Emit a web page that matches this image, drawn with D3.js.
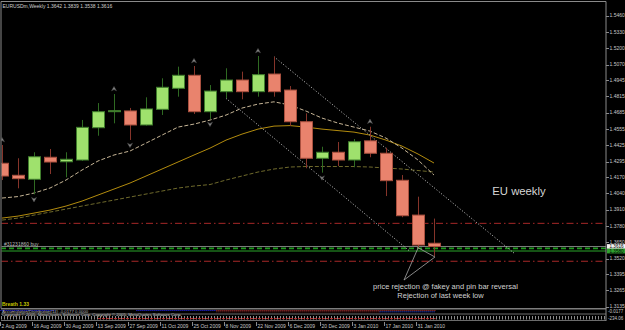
<!DOCTYPE html>
<html>
<head>
<meta charset="utf-8">
<script src="https://cdnjs.cloudflare.com/ajax/libs/d3/7.8.5/d3.min.js"></script>
<style>
body{margin:0;background:#000;}
svg{display:block;font-family:"Liberation Sans",Arial,sans-serif;}
</style>
</head>
<body>
<div class="chart-container"></div>
<script>
// weekly bars EURUSDm
const weeks = ['2 Aug 2009','9 Aug 2009','16 Aug 2009','23 Aug 2009','30 Aug 2009','6 Sep 2009','13 Sep 2009',
  '20 Sep 2009','27 Sep 2009','4 Oct 2009','11 Oct 2009','18 Oct 2009','25 Oct 2009','1 Nov 2009','8 Nov 2009',
  '15 Nov 2009','22 Nov 2009','29 Nov 2009','6 Dec 2009','13 Dec 2009','20 Dec 2009','27 Dec 2009','3 Jan 2010',
  '10 Jan 2010','17 Jan 2010','24 Jan 2010','31 Jan 2010','7 Feb 2010'];

const open  = [1.4281,1.4185,1.4153,1.4329,1.4293,1.4307,1.4565,1.4693,1.4699,1.4587,1.4712,1.4880,1.4984,1.4693,
  1.4853,1.4946,1.4853,1.4994,1.4866,1.4613,1.4321,1.4369,1.4307,1.4460,1.4361,1.4145,1.3867,1.3642];
const high  = [1.4427,1.4321,1.4369,1.4395,1.4369,1.4627,1.4762,1.4834,1.4723,1.4808,1.4960,1.5053,1.5058,1.4906,
  1.5040,1.5013,1.5138,1.5132,1.4898,1.4680,1.4413,1.4451,1.4475,1.4573,1.4405,1.4187,1.4014,1.3839];
const low   = [1.4147,1.4081,1.4033,1.4195,1.4169,1.4300,1.4501,1.4600,1.4467,1.4582,1.4667,1.4813,1.4675,1.4635,
  1.4800,1.4792,1.4813,1.4813,1.4579,1.4241,1.4206,1.4259,1.4249,1.4329,1.4019,1.3850,1.3600,1.3538];
const close = [1.4179,1.4158,1.4333,1.4291,1.4313,1.4568,1.4693,1.4701,1.4587,1.4715,1.4888,1.4984,1.4693,1.4858,
  1.4946,1.4853,1.4989,1.4853,1.4613,1.4321,1.4369,1.4307,1.4453,1.4361,1.4142,1.3862,1.3628,1.3616];

// moving averages
const maFast = [1.4003,1.4015,1.4043,1.4083,1.4147,1.4227,1.4299,1.4347,1.4379,1.4442,1.4506,1.4570,1.4594,1.4626,
  1.4666,1.4722,1.4754,1.4772,1.4746,1.4698,1.4642,1.4602,1.4570,1.4538,1.4482,1.4402,1.4307,1.4187];
const maMid  = [1.3843,1.3859,1.3883,1.3907,1.3939,1.3979,1.4027,1.4075,1.4123,1.4179,1.4235,1.4291,1.4347,1.4402,
  1.4466,1.4514,1.4554,1.4578,1.4582,1.4570,1.4554,1.4542,1.4530,1.4506,1.4466,1.4418,1.4355,1.4283];
const maSlow = [1.3827,1.3843,1.3867,1.3891,1.3915,1.3939,1.3963,1.3987,1.4011,1.4035,1.4059,1.4083,1.4099,1.4111,
  1.4147,1.4179,1.4211,1.4235,1.4251,1.4255,1.4255,1.4255,1.4255,1.4251,1.4243,1.4235,1.4223,1.4211];

const fractalUp = [0,7,12,16,23];
const fractalDown = [2,8,13,20];

// trend lines [bar index, price]
const trendLines = [
  [[17,1.5132],[32.07,1.3556]],
  [[14,1.4800],[25.5,1.3577]]
];
const noteLines = [
  [[25.125,1.3348],[26,1.3603]],
  [[25.125,1.3348],[27.06,1.3532]],
  [[25.95,1.3610],[27.06,1.3532]]
];

const priceTicks = [1.5460,1.5330,1.5200,1.5070,1.4945,1.4815,1.4685,1.4555,1.4425,1.4295,1.4170,1.4040,1.3910,
  1.3780,1.3650,1.3520,1.3395,1.3265,1.3135];
const dateTicks = [0,2,4,6,8,10,12,14,16,18,20,22,24,26];

const tpPrice = 1.3801, slPrice = 1.3498, orderPrice = 1.3601, bidPrice = 1.3616, askPrice = 1.3580;

// indicator rows (bar index ranges)
const indRow1 = [[-0.1,3.3,'#2b2bff'],[8.4,13.4,'#2b2bff'],[13.4,27.1,'#c03838']];
const indRow2 = [[13.4,23.6,'#9a2a2a'],[23.6,27.1,'#3050ff']];
const indRed = [[6,27.1]];

const W = 625, H = 330;
const svg = d3.select('.chart-container').append('svg').attr('width',W).attr('height',H);
svg.append('rect').attr('width',W).attr('height',H).attr('fill','#000');

const x = d3.scaleLinear().domain([0,37.75]).range([2,606]);
const y = d3.scaleLinear().domain([1.31206,1.55735]).range([308.5,1.5]);
const bw = 13;

svg.append('clipPath').attr('id','main').append('rect').attr('x',1.5).attr('y',2).attr('width',604.5).attr('height',306);
const g = svg.append('g').attr('clip-path','url(#main)');

// order lines
const hline = (p,color,dash,w) => g.append('line').attr('x1',1).attr('x2',606)
  .attr('y1',y(p)).attr('y2',y(p)).attr('stroke',color).attr('stroke-width',w||1).attr('stroke-dasharray',dash);
hline(tpPrice,'#a82828','7,3,1.5,3');
hline(slPrice,'#a82828','7,3,1.5,3');
hline(bidPrice,'#7c7c7c',null);
hline(orderPrice,'#1f9a1f','5,3',1.6);
hline(askPrice,'#2aa52a',null);
g.append('text').attr('x',4).attr('y',y(orderPrice)-2).attr('font-size',5).attr('fill','#bdbdbd').text('#31231860 buy');

// moving averages
const maLine = d3.line().x((d,i)=>x(i)).y(d=>y(d));
g.append('path').attr('d',maLine(maSlow)).attr('fill','none').attr('stroke','#6f6a2c').attr('stroke-dasharray','4,2');
g.append('path').attr('d',maLine(maMid)).attr('fill','none').attr('stroke','#b38c0e');
g.append('path').attr('d',maLine(maFast)).attr('fill','none').attr('stroke','#c6b596').attr('stroke-dasharray','4,2');

// trend lines
const ptLine = d3.line().x(d=>x(d[0])).y(d=>y(d[1]));
trendLines.forEach(t => g.append('path').attr('d',ptLine(t)).attr('stroke','#c8c8c8')
  .attr('stroke-dasharray','1,2').attr('fill','none'));

// candles
const bars = d3.range(open.length).map(i => ({i, o:open[i], h:high[i], l:low[i], c:close[i]}));
const cg = g.append('g');
cg.selectAll('.wick').data(bars).join('line').attr('class','wick')
  .attr('x1',d=>Math.round(x(d.i))+0.5).attr('x2',d=>Math.round(x(d.i))+0.5)
  .attr('y1',d=>y(d.h)).attr('y2',d=>y(d.l))
  .attr('stroke',d=>d.c>=d.o ? '#2f6a22' : '#86342a');
cg.selectAll('.body').data(bars).join('rect').attr('class','body')
  .attr('x',d=>Math.round(x(d.i))-6+0.5).attr('width',bw-1)
  .attr('y',d=>y(Math.max(d.o,d.c))).attr('height',d=>Math.max(1,y(Math.min(d.o,d.c))-y(Math.max(d.o,d.c))))
  .attr('fill',d=>d.c>=d.o ? '#9fe16d' : '#e9836d')
  .attr('stroke',d=>d.c>=d.o ? '#3f7d2c' : '#a9503f');

// fractal arrows
const arrowUp = 'M0,-2.6L2.5,1.8L0,0.5L-2.5,1.8Z';
g.selectAll('.fu').data(fractalUp).join('path').attr('class','fu')
  .attr('transform',i=>`translate(${x(i)},${y(high[i])-5})`).attr('d',arrowUp)
  .attr('fill','#858585').attr('stroke','#4a4a4a').attr('stroke-width',0.5);
g.selectAll('.fd').data(fractalDown).join('path').attr('class','fd')
  .attr('transform',i=>`translate(${x(i)},${y(low[i])+5}) scale(1,-1)`).attr('d',arrowUp)
  .attr('fill','#858585').attr('stroke','#4a4a4a').attr('stroke-width',0.5);

// annotation
noteLines.forEach(t => g.append('path').attr('d',ptLine(t)).attr('stroke','#a8a8a8').attr('stroke-width',0.8).attr('fill','none'));
g.append('text').attr('x',519).attr('y',195).attr('text-anchor','middle').attr('font-size',11.3)
  .attr('fill','#d6d6d6').text('EU weekly');
g.append('text').attr('x',445.5).attr('y',288.5).attr('text-anchor','middle').attr('font-size',7.5)
  .attr('fill','#d0d0d0').text('price rejection @ fakey and pin bar reversal');
g.append('text').attr('x',440.5).attr('y',297.5).attr('text-anchor','middle').attr('font-size',7.5)
  .attr('fill','#d0d0d0').text('Rejection of last week low');
g.append('text').attr('x',2.5).attr('y',7.5).attr('font-size',5).attr('fill','#cfcfcf')
  .text('EURUSDm,Weekly  1.3642 1.3839 1.3538 1.3616');
g.append('text').attr('x',2).attr('y',305.5).attr('font-size',5).attr('font-weight','bold').attr('fill','#c8c800')
  .text('Breath 1.33');

// frame
svg.append('path').attr('d','M1,308.5V1.5H606V308.5').attr('fill','none').attr('stroke','#8a8a8a');

// price axis
const yAxis = svg.append('g');
yAxis.selectAll('line').data(priceTicks).join('line')
  .attr('x1',606).attr('x2',609).attr('y1',d=>Math.round(y(d))+0.5).attr('y2',d=>Math.round(y(d))+0.5).attr('stroke','#8a8a8a');
yAxis.selectAll('text').data(priceTicks).join('text')
  .attr('x',609.5).attr('y',d=>y(d)).attr('dy','0.35em').attr('font-size',5).attr('fill','#c8c8c8')
  .text(d=>d.toFixed(4));

// price boxes
const box = (p,bg,fg) => {
  svg.append('rect').attr('x',607).attr('y',y(p)-2.4).attr('width',18).attr('height',4.8).attr('fill',bg);
  svg.append('text').attr('x',609.5).attr('y',y(p)).attr('dy','0.35em').attr('font-size',4.6).attr('fill',fg).text(p.toFixed(4));
};
box(bidPrice,'#f0f0f0','#000');
box(askPrice,'#30a030','#000');

// indicator panes
const ind = svg.append('g');
ind.append('line').attr('x1',1).attr('x2',606).attr('y1',308.8).attr('y2',308.8).attr('stroke','#7d7d7d').attr('stroke-width',1.5);
indRow1.forEach(r => ind.append('line').attr('x1',x(r[0])).attr('x2',x(r[1])).attr('y1',310.5).attr('y2',310.5)
  .attr('stroke',r[2]).attr('stroke-dasharray','1,1'));
indRow2.forEach(r => ind.append('line').attr('x1',x(r[0])).attr('x2',x(r[1])).attr('y1',311.8).attr('y2',311.8)
  .attr('stroke',r[2]).attr('stroke-dasharray','1,1'));
ind.append('text').attr('x',2).attr('y',313).attr('font-size',4.3).attr('fill','#b8b8b8')
  .text('Accumulation/Distribution(14) -0.0177 0.0000');
ind.append('text').attr('x',2).attr('y',315.6).attr('font-size',4.3).attr('fill','#e4e4e4')
  .text('Copyright © 2005, MetaQuotes Software Corp. Copyright © 2005, MetaQuotes Software Corp.');
ind.append('line').attr('x1',1).attr('x2',606).attr('y1',314).attr('y2',314).attr('stroke','#6c6c6c');
ind.append('line').attr('x1',1).attr('x2',606).attr('y1',317.8).attr('y2',317.8).attr('stroke','#8c8c8c')
  .attr('stroke-width',3.6).attr('stroke-dasharray','1,2');
indRed.forEach(r => ind.append('line').attr('x1',x(r[0])).attr('x2',x(r[1])).attr('y1',318.6).attr('y2',318.6)
  .attr('stroke','#c03030').attr('stroke-dasharray','3,1'));
ind.append('line').attr('x1',1).attr('x2',606).attr('y1',320.5).attr('y2',320.5).attr('stroke','#6c6c6c');
ind.append('line').attr('x1',606).attr('x2',606).attr('y1',308).attr('y2',321).attr('stroke','#8a8a8a');
ind.append('text').attr('x',608).attr('y',312.5).attr('font-size',4.5).attr('fill','#c8c8c8').text('-0.0177');
ind.append('text').attr('x',608).attr('y',319.5).attr('font-size',4.5).attr('fill','#c8c8c8').text('-234.06');

// date axis
const xAxis = svg.append('g');
xAxis.selectAll('line').data(dateTicks).join('line')
  .attr('x1',d=>Math.round(x(d))-1.5).attr('x2',d=>Math.round(x(d))-1.5).attr('y1',322).attr('y2',326)
  .attr('stroke','#8a8a8a');
xAxis.selectAll('text').data(dateTicks).join('text')
  .attr('x',d=>x(d)-0.5).attr('y',327.5).attr('font-size',5).attr('fill','#c8c8c8')
  .text(d=>weeks[d]);
</script>
</body>
</html>
